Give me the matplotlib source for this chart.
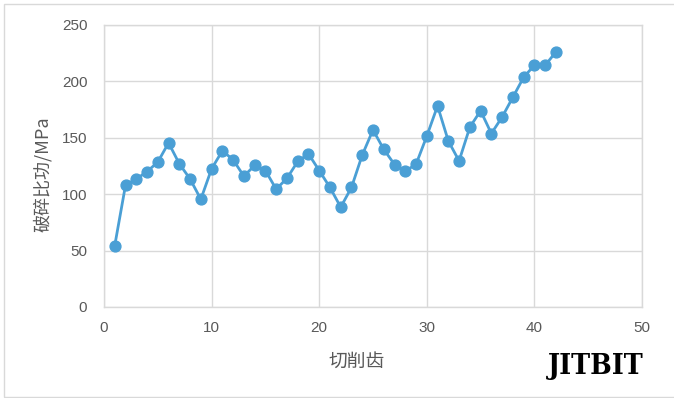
import matplotlib
matplotlib.use("Agg")
import matplotlib.pyplot as plt
from matplotlib.patches import Rectangle

plt.rcParams['font.family'] = ['Noto Sans CJK SC', 'DejaVu Sans']

teeth = list(range(1, 43))
work = [54.5, 108, 113.5, 120, 128.5, 145.5, 127, 113.5, 95.5, 122.5,
        138.5, 130.5, 116, 125.5, 121, 104.5, 114, 129, 135.8, 121,
        106, 88.5, 106, 134.7, 157, 139.8, 126.3, 120.5, 126.5, 151.5,
        178.3, 147.2, 129.5, 159.4, 174, 153.8, 168.4, 186, 203.6, 214.4,
        214.2, 226.2]
xticks = [0, 10, 20, 30, 40, 50]
yticks = [0, 50, 100, 150, 200, 250]

W, H = 674, 398
fig = plt.figure(figsize=(W / 100, H / 100), dpi=100)
fig.patch.set_facecolor('white')

# outer chart border
fig.add_artist(Rectangle((4 / W, 1 / H), (W - 3) / W, (H - 5) / H,
                         transform=fig.transFigure, fill=False,
                         edgecolor='#D9D9D9', linewidth=1.0))

left, right, top, bottom = 104, 642, 25, 307
ax = fig.add_axes([left / W, 1 - bottom / H, (right - left) / W, (bottom - top) / H])

ax.plot(teeth, work, color='#4A9FD5', linewidth=2.0, marker='o',
        markersize=7.8, markerfacecolor='#4A9FD5', markeredgecolor='#4A9FD5',
        zorder=3)

ax.set_xlim(0, 50)
ax.set_ylim(0, 250)
ax.set_xticks(xticks)
ax.set_yticks(yticks)
ax.grid(True, color='#D9D9D9', linewidth=1.0)
ax.set_axisbelow(True)
for s in ax.spines.values():
    s.set_color('#D9D9D9')
    s.set_linewidth(1.0)
ax.tick_params(length=0, colors='#595959', labelsize=11)
ax.tick_params(axis='y', pad=12)
ax.tick_params(axis='x', pad=10)
for lab in ax.get_xticklabels() + ax.get_yticklabels():
    lab.set_fontfamily(['Liberation Sans', 'DejaVu Sans'])

ax.set_xlabel('切削齿', fontsize=13.5, color='#595959')
ax.xaxis.set_label_coords(0.469, -0.155)
ax.set_ylabel('破碎比功/MPa', fontsize=13, color='#595959')
ax.yaxis.set_label_coords(-0.097, 0.47)

fig.text(596 / W, 1 - 366 / H, 'JITBIT', fontsize=20.5, fontweight='bold',
         family=['DejaVu Serif'], fontstretch='condensed',
         color='black', ha='center', va='center')

fig.savefig('out.png', dpi=100, facecolor='white')
